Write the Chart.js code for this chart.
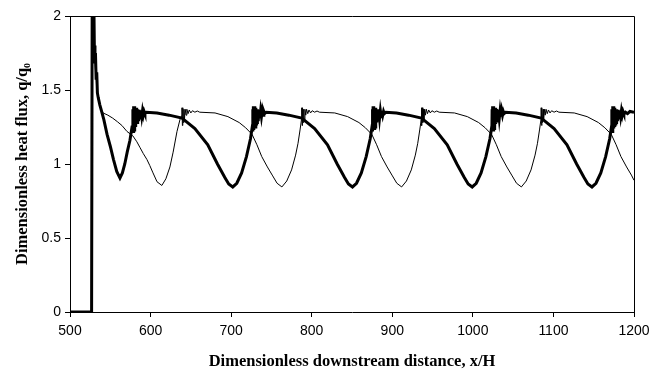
<!DOCTYPE html>
<html>
<head>
<meta charset="utf-8">
<script src="https://cdn.jsdelivr.net/npm/chart.js@4"></script>
<style>
html, body { margin: 0; padding: 0; background: #fff; }
</style>
</head>
<body>
<canvas id="fluxo_calor" width="663" height="374"></canvas>
<script>
/* curva grossa: x/H e q/q0 */
const grossa_x = [
    500, 526.8, 527.6, 528.2, 528.6, 529.2, 529.6, 530.2, 531, 531.6, 532.4, 533.2, 534, 535, 537, 539,
    542, 546, 550, 554, 558, 562, 565, 568, 571, 574.4, 577, 578,
    578.1, 578.5, 579, 579.5, 580, 580.5, 581, 581.5, 582, 582.5, 583, 583.5, 584, 585, 586, 587, 588, 589, 590, 591, 592, 593, 595,
    608, 623, 639, 655, 671, 683, 692, 697, 702, 707, 713, 719, 724, 726.5,
    726.7, 727.1, 727.6, 728.1, 728.6, 729.1, 729.6, 730.1, 730.6, 731.1, 731.6, 732.1, 732.6, 733.6, 734.6, 735.6, 736.6, 737.6, 738.6, 739.6, 740.6, 741.6, 743.6,
    756.6, 771.6, 787.6, 803.6, 819.6, 831.6, 840.6, 845.6, 850.6, 855.6, 861.6, 867.6, 872.6, 875.1,
    875.3, 875.7, 876.2, 876.7, 877.2, 877.7, 878.2, 878.7, 879.2, 879.7, 880.2, 880.7, 881.2, 882.2, 883.2, 884.2, 885.2, 886.2, 887.2, 888.2, 889.2, 890.2, 892.2,
    905.2, 920.2, 936.2, 952.2, 968.2, 980.2, 989.2, 994.2, 999.2, 1004.2, 1010.2, 1016.2, 1021.2, 1023.7,
    1023.9, 1024.3, 1024.8, 1025.3, 1025.8, 1026.3, 1026.8, 1027.3, 1027.8, 1028.3, 1028.8, 1029.3, 1029.8, 1030.8, 1031.8, 1032.8, 1033.8, 1034.8, 1035.8, 1036.8, 1037.8, 1038.8, 1040.8,
    1053.8, 1068.8, 1084.8, 1100.8, 1116.8, 1128.8, 1137.8, 1142.8, 1147.8, 1152.8, 1158.8, 1164.8, 1169.8, 1172.3,
    1172.5, 1172.9, 1173.4, 1173.9, 1174.4, 1174.9, 1175.4, 1175.9, 1176.4, 1176.9, 1177.4, 1177.9, 1178.4, 1179.4, 1180.4, 1181.4, 1182.4, 1183.4, 1184.4, 1185.4, 1186.4, 1187.4, 1189.4,
    1192, 1195, 1200
];
const grossa_y = [
    0, 0, 2.3, 1.85, 2.3, 1.9, 2.2, 1.8, 1.68, 1.75, 1.58, 1.62, 1.48, 1.45, 1.4, 1.36,
    1.3, 1.2, 1.12, 1.03, 0.95, 0.905, 0.94, 1.0, 1.08, 1.16, 1.25, 1.3,
    1.37, 1.22, 1.39, 1.23, 1.39, 1.24, 1.38, 1.25, 1.38, 1.27, 1.37, 1.28, 1.37, 1.29, 1.365, 1.31, 1.36, 1.32, 1.36, 1.33, 1.355, 1.34, 1.35,
    1.345, 1.33, 1.31, 1.24, 1.13, 1.0, 0.91, 0.865, 0.845, 0.87, 0.94, 1.05, 1.17, 1.26,
    1.37, 1.22, 1.39, 1.23, 1.39, 1.24, 1.38, 1.25, 1.38, 1.27, 1.37, 1.28, 1.37, 1.29, 1.365, 1.31, 1.36, 1.32, 1.36, 1.33, 1.355, 1.34, 1.35,
    1.345, 1.33, 1.31, 1.24, 1.13, 1.0, 0.91, 0.865, 0.845, 0.87, 0.94, 1.05, 1.17, 1.26,
    1.37, 1.22, 1.39, 1.23, 1.39, 1.24, 1.38, 1.25, 1.38, 1.27, 1.37, 1.28, 1.37, 1.29, 1.365, 1.31, 1.36, 1.32, 1.36, 1.33, 1.355, 1.34, 1.35,
    1.345, 1.33, 1.31, 1.24, 1.13, 1.0, 0.91, 0.865, 0.845, 0.87, 0.94, 1.05, 1.17, 1.26,
    1.37, 1.22, 1.39, 1.23, 1.39, 1.24, 1.38, 1.25, 1.38, 1.27, 1.37, 1.28, 1.37, 1.29, 1.365, 1.31, 1.36, 1.32, 1.36, 1.33, 1.355, 1.34, 1.35,
    1.345, 1.33, 1.31, 1.24, 1.13, 1.0, 0.91, 0.865, 0.845, 0.87, 0.94, 1.05, 1.17, 1.26,
    1.37, 1.22, 1.39, 1.23, 1.39, 1.24, 1.38, 1.25, 1.38, 1.27, 1.37, 1.28, 1.37, 1.29, 1.365, 1.31, 1.36, 1.32, 1.36, 1.33, 1.355, 1.34, 1.35,
    1.34, 1.355, 1.35
];

/* curva fina */
const fina_x = [
    500, 526.5, 526.8, 527.3, 527.9, 528.4, 529, 529.5, 530, 531, 531.5, 532.5, 533, 534, 535.5, 537, 539,
    541, 547, 553, 559, 564.5, 570.7, 578, 583, 587, 591, 595.5, 599, 603, 608, 614, 619, 624, 628, 632.8, 636.5, 638.9,
    639, 639.5, 640, 640.7, 641.4, 642, 643, 644, 645, 646.5, 648, 650, 652, 655, 658, 661,
    680, 696, 710, 718, 726, 732, 738, 745, 751, 757, 763, 769, 775, 780, 783, 785.5, 787.3,
    787.6, 788.1, 788.6, 789.3, 790, 790.6, 791.6, 792.6, 793.6, 795.1, 796.6, 798.6, 800.6, 803.6, 806.6, 809.6,
    828.6, 844.6, 858.6, 866.6, 874.6, 880.6, 886.6, 893.6, 899.6, 905.6, 911.6, 917.6, 923.6, 928.6, 931.6, 934.1, 935.9,
    936.2, 936.7, 937.2, 937.9, 938.6, 939.2, 940.2, 941.2, 942.2, 943.7, 945.2, 947.2, 949.2, 952.2, 955.2, 958.2,
    977.2, 993.2, 1007.2, 1015.2, 1023.2, 1029.2, 1035.2, 1042.2, 1048.2, 1054.2, 1060.2, 1066.2, 1072.2, 1077.2, 1080.2, 1082.7, 1084.5,
    1084.8, 1085.3, 1085.8, 1086.5, 1087.2, 1087.8, 1088.8, 1089.8, 1090.8, 1092.3, 1093.8, 1095.8, 1097.8, 1100.8, 1103.8, 1106.8,
    1125.8, 1141.8, 1155.8, 1163.8, 1171.8, 1177.8, 1183.8, 1190.8, 1196.8, 1200
];
const fina_y = [
    0, 0, 0.3, 2.3, 1.85, 2.3, 1.84, 2.1, 1.75, 1.7, 1.64, 1.6, 1.52, 1.5, 1.44, 1.4, 1.36,
    1.345, 1.33, 1.31, 1.285, 1.26, 1.22, 1.19, 1.15, 1.11, 1.07, 1.03, 0.99, 0.94, 0.88, 0.855, 0.9, 0.98, 1.08, 1.22, 1.3, 1.33,
    1.38, 1.26, 1.38, 1.28, 1.37, 1.3, 1.37, 1.33, 1.37, 1.34, 1.365, 1.345, 1.36, 1.35, 1.358, 1.35,
    1.345, 1.32, 1.28, 1.245, 1.2, 1.13, 1.05, 0.98, 0.925, 0.87, 0.845, 0.885, 0.96, 1.06, 1.14, 1.23, 1.3,
    1.38, 1.26, 1.38, 1.28, 1.37, 1.3, 1.37, 1.33, 1.37, 1.34, 1.365, 1.345, 1.36, 1.35, 1.358, 1.35,
    1.345, 1.32, 1.28, 1.245, 1.2, 1.13, 1.05, 0.98, 0.925, 0.87, 0.845, 0.885, 0.96, 1.06, 1.14, 1.23, 1.3,
    1.38, 1.26, 1.38, 1.28, 1.37, 1.3, 1.37, 1.33, 1.37, 1.34, 1.365, 1.345, 1.36, 1.35, 1.358, 1.35,
    1.345, 1.32, 1.28, 1.245, 1.2, 1.13, 1.05, 0.98, 0.925, 0.87, 0.845, 0.885, 0.96, 1.06, 1.14, 1.23, 1.3,
    1.38, 1.26, 1.38, 1.28, 1.37, 1.3, 1.37, 1.33, 1.37, 1.34, 1.365, 1.345, 1.36, 1.35, 1.358, 1.35,
    1.345, 1.32, 1.28, 1.245, 1.2, 1.13, 1.05, 0.98, 0.925, 0.89
];

const ticks_x = [500, 600, 700, 800, 900, 1000, 1100, 1200];
const ticks_y = [0, 0.5, 1, 1.5, 2];

const pontos = (xs, ys) => xs.map((x, i) => ({ x: x, y: ys[i] }));

// moldura em cima e na direita
const moldura = {
    id: 'moldura',
    afterDraw(chart) {
        const a = chart.chartArea;
        const ctx = chart.ctx;
        ctx.save();
        ctx.strokeStyle = '#000';
        ctx.lineWidth = 1;
        ctx.beginPath();
        ctx.moveTo(a.left, a.top + 0.5);
        ctx.lineTo(a.right + 0.5, a.top + 0.5);
        ctx.lineTo(a.right + 0.5, a.bottom);
        ctx.stroke();
        ctx.restore();
    }
};

const fonte_ticks = { family: 'Liberation Sans', size: 14 };
const fonte_titulo = { family: 'Liberation Serif', size: 16.5, weight: 'bold' };

const config_fluxo_calor = {
    type: 'scatter',
    data: {
        datasets: [{
            data: pontos(grossa_x, grossa_y),
            borderColor: '#000',
            borderWidth: 3,
            showLine: true,
            pointRadius: 0,
            tension: 0
        }, {
            data: pontos(fina_x, fina_y),
            borderColor: '#000',
            borderWidth: 1,
            showLine: true,
            pointRadius: 0,
            tension: 0
        }]
    },
    options: {
        responsive: false,
        animation: false,
        layout: { padding: { top: 16, right: 29, left: 0, bottom: 0 } },
        plugins: { legend: { display: false }, tooltip: { enabled: false } },
        scales: {
            x: {
                type: 'linear',
                min: 500,
                max: 1200,
                afterBuildTicks: s => { s.ticks = ticks_x.map(v => ({ value: v })); },
                afterFit: s => { s.height = 62; },
                ticks: { color: '#000', font: fonte_ticks, padding: 6, maxRotation: 0, callback: v => String(v) },
                grid: { drawOnChartArea: false, tickLength: 5, color: '#000' },
                border: { color: '#000', width: 1 },
                title: {
                    display: true,
                    text: 'Dimensionless downstream distance, x/H',
                    color: '#000',
                    font: fonte_titulo,
                    padding: { top: 0, bottom: 2 }
                }
            },
            y: {
                min: 0,
                max: 2,
                afterBuildTicks: s => { s.ticks = ticks_y.map(v => ({ value: v })); },
                afterFit: s => { s.width = 70; },
                ticks: { color: '#000', font: fonte_ticks, padding: 4, callback: v => String(v) },
                grid: { drawOnChartArea: false, tickLength: 5, color: '#000' },
                border: { color: '#000', width: 1 },
                title: {
                    display: true,
                    text: 'Dimensionless heat flux, q/q\u2080',
                    color: '#000',
                    font: fonte_titulo,
                    padding: { top: 13, bottom: 0 }
                }
            }
        }
    },
    plugins: [moldura]
};

const grafico_fluxo_calor = new Chart(
    document.getElementById('fluxo_calor'),
    config_fluxo_calor
);
</script>
</body>
</html>
